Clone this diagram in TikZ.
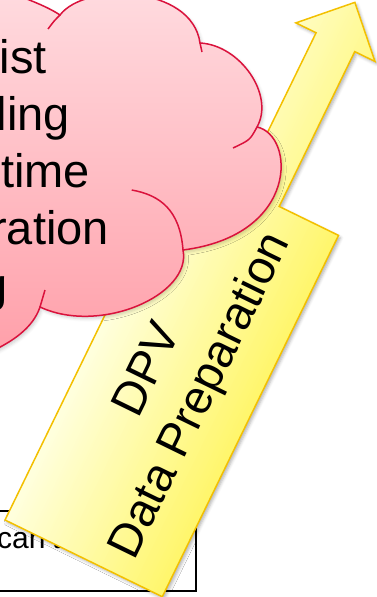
\documentclass[tikz,border=0pt]{standalone}
\usepackage{fontspec}
\setmainfont{Liberation Sans}
\usetikzlibrary{shadows.blur}

\definecolor{cloudEdge}{RGB}{218,18,60}
\definecolor{cloudTop}{RGB}{255,222,226}
\definecolor{cloudBot}{RGB}{255,160,170}
\definecolor{noteEdge}{RGB}{243,192,0}
\definecolor{noteLight}{RGB}{255,255,222}
\definecolor{noteDeep}{RGB}{255,246,108}

\begin{document}
\begin{tikzpicture}[x=1pt,y=-1pt,
  bigtext/.style={font=\fontsize{47}{56}\selectfont, inner sep=0pt},
  boxtext/.style={font=\fontsize{30}{36}\selectfont, inner sep=0pt},
  cloudline/.style={draw=cloudEdge, line width=1.5pt},
]
\useasboundingbox (0,0) rectangle (377,597);
\clip (0,0) rectangle (377,597);

% plain white box behind everything
\node (box) [draw=black, line width=1.8pt, fill=white, anchor=north west,
  minimum width=205pt, minimum height=80pt, inner sep=0pt] at (-10,510) {};
\node (cant) [boxtext, anchor=base west] at (-3,548) {can't};

% tilted yellow note with its upward arrow, given in the note's own frame
% (x across the note, y along it, origin at its lower left corner)
\begin{scope}[shift={(5,520)}, x={(0.8988pt,-0.4384pt)}, y={(0.4384pt,0.8988pt)}]
  \coordinate (bl) at (0,0);
  \coordinate (tl) at (0,402);
  \coordinate (shaftL) at (66,402);
  \coordinate (headL) at (66,574.3);
  \coordinate (barbL) at (43.5,574.3);
  \coordinate (tip) at (87.5,618.6);
  \coordinate (barbR) at (131.5,574.3);
  \coordinate (headR) at (109,574.3);
  \coordinate (shaftR) at (109,402);
  \coordinate (tr) at (175,402);
  \coordinate (br) at (175,0);
  % base fill with its soft shadow
  \fill[noteLight, blur shadow={shadow xshift=2pt, shadow yshift=-2.5pt,
          shadow blur radius=3pt, shadow opacity=30}]
    (bl) -- (tl) -- (shaftL) -- (headL) -- (barbL) -- (tip) -- (barbR)
    -- (headR) -- (shaftR) -- (tr) -- (br) -- cycle;
  % gradient across the note, laid down as thin strips along it
  \begin{scope}
    \clip (bl) -- (tl) -- (shaftL) -- (headL) -- (barbL) -- (tip) -- (barbR)
      -- (headR) -- (shaftR) -- (tr) -- (br) -- cycle;
    \foreach \i in {0,...,69} {
      \pgfmathtruncatemacro\pct{100*\i/69}
      \pgfmathsetmacro\xa{\i*2.5-0.4}
      \pgfmathsetmacro\xb{\i*2.5+2.9}
      \fill[noteDeep!\pct!noteLight]
        (\xa,-10) -- (\xb,-10) -- (\xb,640) -- (\xa,640) -- cycle;
    }
  \end{scope}
  \draw[noteEdge, line width=1.5pt, line join=miter]
    (bl) -- (tl) -- (shaftL) -- (headL) -- (barbL) -- (tip) -- (barbR)
    -- (headR) -- (shaftR) -- (tr) -- (br) -- cycle;
\end{scope}

\node (dpv)  [bigtext, rotate=64, anchor=base] at (159.6,375.7) {DPV};
\node (prep) [bigtext, rotate=64, anchor=base] at (212.5,401.5) {Data Preparation};

% pink thought cloud
\path[cloudline, top color=cloudTop, bottom color=cloudBot,
      blur shadow={shadow xshift=2pt, shadow yshift=-2.5pt,
        shadow blur radius=3pt, shadow opacity=18}]
  (-30,-30) -- (-10,-15)
  .. controls (12,-6) and (42,3) .. (60,15) coordinate (cA)
  .. controls (85,-18) and (192,-15) .. (200,43) coordinate (cB)
  .. controls (240,45) and (275,95) .. (257,127) coordinate (cC)
  .. controls (295,135) and (300,235) .. (183,250) coordinate (cD)
  .. controls (192,295) and (100,335) .. (40,307) coordinate (cE)
  .. controls (33,328) and (12,342) .. (-10,352)
  -- (-30,352) -- cycle;

% inner hooks where the lobes meet
\draw[cloudline] (cA) .. controls (54,21) .. (48,29);
\draw[cloudline] (cB) .. controls (201,48) .. (202,52);
\draw[cloudline] (cC) .. controls (250,140) .. (233,148);
\draw[cloudline] (cD) .. controls (180,210) and (160,195) .. (131.7,190);
\draw[cloudline] (cE) .. controls (42,298) .. (45,290);

% words inside the cloud
\node (w1) [bigtext, anchor=base east] at (47,73)  {ist};
\node (w2) [bigtext, anchor=base east] at (70,130) {ling};
\node (w3) [bigtext, anchor=base east] at (90,187) {time};
\node (w4) [bigtext, anchor=base east] at (109,244) {ration};
\node (w5) [bigtext, anchor=base east] at (8,301)  {g};
\end{tikzpicture}
\end{document}
